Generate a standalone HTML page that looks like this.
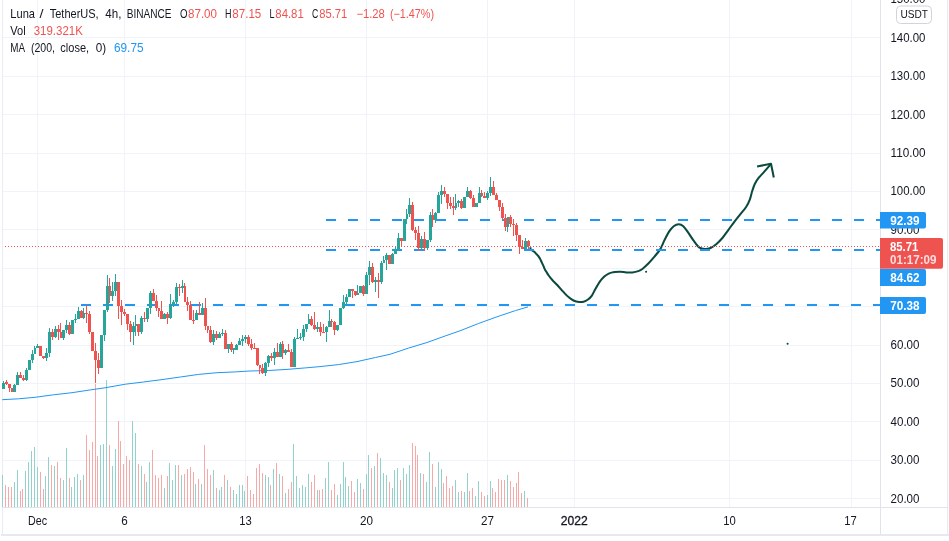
<!DOCTYPE html>
<html lang="en"><head><meta charset="utf-8"><title>LUNAUSDT chart</title>
<style>html,body{margin:0;padding:0;background:#fff;overflow:hidden}svg{display:block}</style></head>
<body>
<svg width="949" height="541" viewBox="0 0 949 541">
<rect width="949" height="541" fill="#fff"/>
<g fill="#f0f3fa" shape-rendering="crispEdges">
<rect x="37" y="0" width="1" height="507"/>
<rect x="124" y="0" width="1" height="507"/>
<rect x="245" y="0" width="1" height="507"/>
<rect x="366" y="0" width="1" height="507"/>
<rect x="487" y="0" width="1" height="507"/>
<rect x="574" y="0" width="1" height="507"/>
<rect x="729" y="0" width="1" height="507"/>
<rect x="851" y="0" width="1" height="507"/>
<rect x="3" y="37" width="877" height="1"/>
<rect x="3" y="76" width="877" height="1"/>
<rect x="3" y="114" width="877" height="1"/>
<rect x="3" y="153" width="877" height="1"/>
<rect x="3" y="191" width="877" height="1"/>
<rect x="3" y="229" width="877" height="1"/>
<rect x="3" y="268" width="877" height="1"/>
<rect x="3" y="306" width="877" height="1"/>
<rect x="3" y="345" width="877" height="1"/>
<rect x="3" y="383" width="877" height="1"/>
<rect x="3" y="421" width="877" height="1"/>
<rect x="3" y="460" width="877" height="1"/>
<rect x="3" y="498" width="877" height="1"/>
</g>
<rect x="2" y="0" width="1" height="535" fill="#eaecf3" shape-rendering="crispEdges"/>
<rect x="947" y="0" width="1" height="535" fill="#eaecf3" shape-rendering="crispEdges"/>
<g shape-rendering="crispEdges">
<rect x="2" y="475" width="1" height="32" fill="#92d2cc"/>
<rect x="5" y="485" width="1" height="22" fill="#f7a9a7"/>
<rect x="8" y="487" width="1" height="20" fill="#f7a9a7"/>
<rect x="11" y="487" width="1" height="20" fill="#f7a9a7"/>
<rect x="14" y="482" width="1" height="25" fill="#92d2cc"/>
<rect x="17" y="470" width="1" height="37" fill="#92d2cc"/>
<rect x="20" y="491" width="1" height="16" fill="#f7a9a7"/>
<rect x="22" y="489" width="1" height="18" fill="#f7a9a7"/>
<rect x="25" y="471" width="1" height="36" fill="#92d2cc"/>
<rect x="28" y="462" width="1" height="45" fill="#92d2cc"/>
<rect x="31" y="451" width="1" height="56" fill="#92d2cc"/>
<rect x="34" y="447" width="1" height="60" fill="#92d2cc"/>
<rect x="37" y="467" width="1" height="40" fill="#92d2cc"/>
<rect x="40" y="472" width="1" height="35" fill="#f7a9a7"/>
<rect x="43" y="489" width="1" height="18" fill="#f7a9a7"/>
<rect x="45" y="476" width="1" height="31" fill="#92d2cc"/>
<rect x="48" y="457" width="1" height="50" fill="#92d2cc"/>
<rect x="51" y="465" width="1" height="42" fill="#f7a9a7"/>
<rect x="54" y="466" width="1" height="41" fill="#92d2cc"/>
<rect x="57" y="462" width="1" height="45" fill="#f7a9a7"/>
<rect x="60" y="478" width="1" height="29" fill="#f7a9a7"/>
<rect x="63" y="480" width="1" height="27" fill="#92d2cc"/>
<rect x="66" y="448" width="1" height="59" fill="#92d2cc"/>
<rect x="69" y="478" width="1" height="29" fill="#f7a9a7"/>
<rect x="71" y="487" width="1" height="20" fill="#92d2cc"/>
<rect x="74" y="477" width="1" height="30" fill="#92d2cc"/>
<rect x="77" y="474" width="1" height="33" fill="#92d2cc"/>
<rect x="80" y="480" width="1" height="27" fill="#f7a9a7"/>
<rect x="83" y="475" width="1" height="32" fill="#92d2cc"/>
<rect x="86" y="435" width="1" height="72" fill="#f7a9a7"/>
<rect x="89" y="450" width="1" height="57" fill="#f7a9a7"/>
<rect x="92" y="442" width="1" height="65" fill="#f7a9a7"/>
<rect x="95" y="384" width="1" height="123" fill="#f7a9a7"/>
<rect x="97" y="456" width="1" height="51" fill="#f7a9a7"/>
<rect x="100" y="445" width="1" height="62" fill="#92d2cc"/>
<rect x="103" y="444" width="1" height="63" fill="#92d2cc"/>
<rect x="106" y="380" width="1" height="127" fill="#92d2cc"/>
<rect x="109" y="445" width="1" height="62" fill="#f7a9a7"/>
<rect x="112" y="466" width="1" height="41" fill="#92d2cc"/>
<rect x="115" y="449" width="1" height="58" fill="#92d2cc"/>
<rect x="118" y="421" width="1" height="86" fill="#f7a9a7"/>
<rect x="120" y="441" width="1" height="66" fill="#f7a9a7"/>
<rect x="123" y="464" width="1" height="43" fill="#f7a9a7"/>
<rect x="126" y="456" width="1" height="51" fill="#f7a9a7"/>
<rect x="129" y="460" width="1" height="47" fill="#f7a9a7"/>
<rect x="132" y="421" width="1" height="86" fill="#92d2cc"/>
<rect x="135" y="433" width="1" height="74" fill="#92d2cc"/>
<rect x="138" y="464" width="1" height="43" fill="#f7a9a7"/>
<rect x="141" y="466" width="1" height="41" fill="#92d2cc"/>
<rect x="144" y="474" width="1" height="33" fill="#f7a9a7"/>
<rect x="146" y="482" width="1" height="25" fill="#92d2cc"/>
<rect x="149" y="462" width="1" height="45" fill="#92d2cc"/>
<rect x="152" y="450" width="1" height="57" fill="#f7a9a7"/>
<rect x="155" y="475" width="1" height="32" fill="#f7a9a7"/>
<rect x="158" y="478" width="1" height="29" fill="#f7a9a7"/>
<rect x="161" y="475" width="1" height="32" fill="#f7a9a7"/>
<rect x="164" y="488" width="1" height="19" fill="#92d2cc"/>
<rect x="167" y="476" width="1" height="31" fill="#f7a9a7"/>
<rect x="169" y="463" width="1" height="44" fill="#92d2cc"/>
<rect x="172" y="480" width="1" height="27" fill="#92d2cc"/>
<rect x="175" y="465" width="1" height="42" fill="#92d2cc"/>
<rect x="178" y="465" width="1" height="42" fill="#f7a9a7"/>
<rect x="181" y="475" width="1" height="32" fill="#92d2cc"/>
<rect x="184" y="474" width="1" height="33" fill="#f7a9a7"/>
<rect x="187" y="469" width="1" height="38" fill="#f7a9a7"/>
<rect x="190" y="467" width="1" height="40" fill="#f7a9a7"/>
<rect x="193" y="472" width="1" height="35" fill="#f7a9a7"/>
<rect x="195" y="484" width="1" height="23" fill="#92d2cc"/>
<rect x="198" y="479" width="1" height="28" fill="#f7a9a7"/>
<rect x="201" y="484" width="1" height="23" fill="#92d2cc"/>
<rect x="204" y="445" width="1" height="62" fill="#f7a9a7"/>
<rect x="207" y="469" width="1" height="38" fill="#f7a9a7"/>
<rect x="210" y="475" width="1" height="32" fill="#f7a9a7"/>
<rect x="213" y="470" width="1" height="37" fill="#92d2cc"/>
<rect x="216" y="488" width="1" height="19" fill="#f7a9a7"/>
<rect x="219" y="490" width="1" height="17" fill="#92d2cc"/>
<rect x="221" y="487" width="1" height="20" fill="#92d2cc"/>
<rect x="224" y="475" width="1" height="32" fill="#f7a9a7"/>
<rect x="227" y="480" width="1" height="27" fill="#92d2cc"/>
<rect x="230" y="487" width="1" height="20" fill="#f7a9a7"/>
<rect x="233" y="490" width="1" height="17" fill="#92d2cc"/>
<rect x="236" y="494" width="1" height="13" fill="#92d2cc"/>
<rect x="239" y="485" width="1" height="22" fill="#92d2cc"/>
<rect x="242" y="485" width="1" height="22" fill="#92d2cc"/>
<rect x="244" y="491" width="1" height="16" fill="#92d2cc"/>
<rect x="247" y="476" width="1" height="31" fill="#f7a9a7"/>
<rect x="250" y="490" width="1" height="17" fill="#f7a9a7"/>
<rect x="253" y="494" width="1" height="13" fill="#f7a9a7"/>
<rect x="256" y="468" width="1" height="39" fill="#f7a9a7"/>
<rect x="259" y="464" width="1" height="43" fill="#f7a9a7"/>
<rect x="262" y="473" width="1" height="34" fill="#f7a9a7"/>
<rect x="265" y="475" width="1" height="32" fill="#92d2cc"/>
<rect x="268" y="477" width="1" height="30" fill="#92d2cc"/>
<rect x="270" y="485" width="1" height="22" fill="#f7a9a7"/>
<rect x="273" y="469" width="1" height="38" fill="#92d2cc"/>
<rect x="276" y="463" width="1" height="44" fill="#f7a9a7"/>
<rect x="279" y="474" width="1" height="33" fill="#92d2cc"/>
<rect x="282" y="476" width="1" height="31" fill="#f7a9a7"/>
<rect x="285" y="493" width="1" height="14" fill="#92d2cc"/>
<rect x="288" y="489" width="1" height="18" fill="#f7a9a7"/>
<rect x="291" y="482" width="1" height="25" fill="#f7a9a7"/>
<rect x="293" y="444" width="1" height="63" fill="#92d2cc"/>
<rect x="296" y="476" width="1" height="31" fill="#92d2cc"/>
<rect x="299" y="488" width="1" height="19" fill="#92d2cc"/>
<rect x="302" y="485" width="1" height="22" fill="#92d2cc"/>
<rect x="305" y="487" width="1" height="20" fill="#92d2cc"/>
<rect x="308" y="474" width="1" height="33" fill="#92d2cc"/>
<rect x="311" y="482" width="1" height="25" fill="#f7a9a7"/>
<rect x="314" y="475" width="1" height="32" fill="#f7a9a7"/>
<rect x="317" y="490" width="1" height="17" fill="#92d2cc"/>
<rect x="319" y="490" width="1" height="17" fill="#f7a9a7"/>
<rect x="322" y="489" width="1" height="18" fill="#f7a9a7"/>
<rect x="325" y="478" width="1" height="29" fill="#92d2cc"/>
<rect x="328" y="462" width="1" height="45" fill="#92d2cc"/>
<rect x="331" y="490" width="1" height="17" fill="#f7a9a7"/>
<rect x="334" y="484" width="1" height="23" fill="#f7a9a7"/>
<rect x="337" y="495" width="1" height="12" fill="#92d2cc"/>
<rect x="340" y="484" width="1" height="23" fill="#92d2cc"/>
<rect x="343" y="462" width="1" height="45" fill="#92d2cc"/>
<rect x="345" y="477" width="1" height="30" fill="#92d2cc"/>
<rect x="348" y="486" width="1" height="21" fill="#92d2cc"/>
<rect x="351" y="481" width="1" height="26" fill="#f7a9a7"/>
<rect x="354" y="492" width="1" height="15" fill="#f7a9a7"/>
<rect x="357" y="479" width="1" height="28" fill="#92d2cc"/>
<rect x="360" y="483" width="1" height="24" fill="#92d2cc"/>
<rect x="363" y="489" width="1" height="18" fill="#f7a9a7"/>
<rect x="366" y="474" width="1" height="33" fill="#92d2cc"/>
<rect x="368" y="455" width="1" height="52" fill="#92d2cc"/>
<rect x="371" y="468" width="1" height="39" fill="#f7a9a7"/>
<rect x="374" y="466" width="1" height="41" fill="#92d2cc"/>
<rect x="377" y="453" width="1" height="54" fill="#f7a9a7"/>
<rect x="380" y="458" width="1" height="49" fill="#92d2cc"/>
<rect x="383" y="473" width="1" height="34" fill="#92d2cc"/>
<rect x="386" y="475" width="1" height="32" fill="#92d2cc"/>
<rect x="389" y="482" width="1" height="25" fill="#f7a9a7"/>
<rect x="392" y="488" width="1" height="19" fill="#92d2cc"/>
<rect x="394" y="470" width="1" height="37" fill="#92d2cc"/>
<rect x="397" y="468" width="1" height="39" fill="#92d2cc"/>
<rect x="400" y="480" width="1" height="27" fill="#f7a9a7"/>
<rect x="403" y="468" width="1" height="39" fill="#92d2cc"/>
<rect x="406" y="474" width="1" height="33" fill="#92d2cc"/>
<rect x="409" y="465" width="1" height="42" fill="#92d2cc"/>
<rect x="412" y="443" width="1" height="64" fill="#f7a9a7"/>
<rect x="415" y="446" width="1" height="61" fill="#f7a9a7"/>
<rect x="417" y="455" width="1" height="52" fill="#f7a9a7"/>
<rect x="420" y="473" width="1" height="34" fill="#92d2cc"/>
<rect x="423" y="474" width="1" height="33" fill="#f7a9a7"/>
<rect x="426" y="482" width="1" height="25" fill="#92d2cc"/>
<rect x="429" y="452" width="1" height="55" fill="#92d2cc"/>
<rect x="432" y="464" width="1" height="43" fill="#f7a9a7"/>
<rect x="435" y="487" width="1" height="20" fill="#92d2cc"/>
<rect x="438" y="462" width="1" height="45" fill="#92d2cc"/>
<rect x="441" y="469" width="1" height="38" fill="#92d2cc"/>
<rect x="443" y="483" width="1" height="24" fill="#f7a9a7"/>
<rect x="446" y="476" width="1" height="31" fill="#f7a9a7"/>
<rect x="449" y="488" width="1" height="19" fill="#f7a9a7"/>
<rect x="452" y="486" width="1" height="21" fill="#f7a9a7"/>
<rect x="455" y="480" width="1" height="27" fill="#92d2cc"/>
<rect x="458" y="492" width="1" height="15" fill="#92d2cc"/>
<rect x="461" y="491" width="1" height="16" fill="#f7a9a7"/>
<rect x="464" y="492" width="1" height="15" fill="#92d2cc"/>
<rect x="467" y="473" width="1" height="34" fill="#92d2cc"/>
<rect x="469" y="491" width="1" height="16" fill="#f7a9a7"/>
<rect x="472" y="488" width="1" height="19" fill="#f7a9a7"/>
<rect x="475" y="496" width="1" height="11" fill="#92d2cc"/>
<rect x="478" y="481" width="1" height="26" fill="#92d2cc"/>
<rect x="481" y="492" width="1" height="15" fill="#f7a9a7"/>
<rect x="484" y="496" width="1" height="11" fill="#f7a9a7"/>
<rect x="487" y="495" width="1" height="12" fill="#92d2cc"/>
<rect x="490" y="481" width="1" height="26" fill="#92d2cc"/>
<rect x="492" y="488" width="1" height="19" fill="#f7a9a7"/>
<rect x="495" y="492" width="1" height="15" fill="#f7a9a7"/>
<rect x="498" y="479" width="1" height="28" fill="#f7a9a7"/>
<rect x="501" y="480" width="1" height="27" fill="#f7a9a7"/>
<rect x="504" y="480" width="1" height="27" fill="#f7a9a7"/>
<rect x="507" y="475" width="1" height="32" fill="#92d2cc"/>
<rect x="510" y="481" width="1" height="26" fill="#f7a9a7"/>
<rect x="513" y="487" width="1" height="20" fill="#f7a9a7"/>
<rect x="516" y="483" width="1" height="24" fill="#f7a9a7"/>
<rect x="518" y="472" width="1" height="35" fill="#f7a9a7"/>
<rect x="521" y="493" width="1" height="14" fill="#f7a9a7"/>
<rect x="524" y="491" width="1" height="16" fill="#92d2cc"/>
<rect x="527" y="498" width="1" height="9" fill="#f7a9a7"/>
</g>
<polyline points="2.2,399.7 18.5,398.8 35.0,397.3 53.5,394.8 72.0,392.7 90.4,389.9 105.0,387.8 125.4,384.2 143.5,382.0 162.0,379.6 180.4,377.0 198.5,374.4 217.0,372.7 235.4,371.9 250.0,371.0 268.5,370.5 287.0,369.4 305.4,367.9 320.0,366.6 338.5,364.6 357.0,361.6 375.4,357.5 390.0,354.3 408.5,348.1 427.0,342.5 445.4,335.9 460.0,330.8 478.5,323.5 497.0,316.8 515.4,310.6 528.0,306.9" fill="none" stroke="#2196f3" stroke-width="1" stroke-linejoin="round"/>
<g fill="none" stroke="#0b4a3f" stroke-width="2.05" stroke-linecap="butt" stroke-linejoin="round">
<path d="M530.5,247.2C530.5,247.6 530.2,248.9 530.8,249.6C531.4,250.3 533.0,250.8 533.9,251.5C534.8,252.2 535.3,252.8 536.1,253.7C536.9,254.5 538.0,255.6 538.7,256.6C539.4,257.6 540.0,258.6 540.5,259.6C541.0,260.7 541.5,261.8 542.0,262.9C542.5,264.0 543.0,265.1 543.5,266.2C544.0,267.3 544.5,268.6 545.0,269.6C545.5,270.7 546.2,271.5 546.8,272.5C547.4,273.5 547.8,274.2 548.7,275.5C549.6,276.8 550.9,278.5 552.3,280.0C553.7,281.5 555.2,282.8 557.0,284.7C558.8,286.6 560.9,289.3 562.9,291.4C564.9,293.5 566.9,295.8 568.8,297.3C570.6,298.9 572.3,299.9 574.0,300.7C575.7,301.5 577.5,301.8 579.1,302.0C580.7,302.2 582.1,302.1 583.6,301.7C585.1,301.3 586.6,300.5 588.0,299.5C589.4,298.5 590.5,297.5 591.7,295.8C592.9,294.1 594.0,291.5 595.4,289.1C596.8,286.8 598.3,283.8 599.8,281.7C601.3,279.6 602.8,278.0 604.3,276.6C605.8,275.2 607.0,274.4 608.7,273.6C610.4,272.9 612.6,272.4 614.6,272.1C616.6,271.8 618.5,271.6 620.5,271.7C622.5,271.8 624.4,272.3 626.4,272.4C628.4,272.5 630.4,272.6 632.4,272.4C634.4,272.2 636.6,271.7 638.3,271.1C640.0,270.5 641.0,270.0 642.7,268.7C644.4,267.4 646.6,265.3 648.6,263.3C650.6,261.3 652.5,259.0 654.5,256.6C656.5,254.2 658.6,251.9 660.3,249.1C662.0,246.2 663.3,242.4 664.8,239.5C666.3,236.6 667.7,233.6 669.2,231.4C670.7,229.2 672.1,227.4 673.7,226.2C675.3,225.0 677.2,224.3 678.8,224.3C680.4,224.3 681.7,224.8 683.3,226.2C684.9,227.6 686.5,230.3 688.4,232.9C690.2,235.5 692.5,239.2 694.4,241.7C696.2,244.2 697.8,246.5 699.5,247.7C701.2,248.9 702.9,249.0 704.7,249.1C706.6,249.2 708.6,248.8 710.6,248.0C712.6,247.2 714.5,245.7 716.5,244.0C718.5,242.3 720.4,240.3 722.4,238.0C724.4,235.7 726.4,232.6 728.4,229.9C730.4,227.2 732.3,224.4 734.3,221.8C736.3,219.2 738.2,216.9 740.2,214.4C742.2,211.9 744.5,209.5 746.1,207.0C747.7,204.5 748.8,202.3 749.8,199.6C750.8,196.9 751.4,193.6 752.2,191.0C753.1,188.4 753.8,186.0 754.9,183.8C756.0,181.6 757.2,179.7 758.8,177.7C760.4,175.7 762.3,173.9 764.3,171.6C766.3,169.3 769.9,165.1 771.0,163.8"/>
<polyline points="757.1,166.4 771,163.8 773.8,177.5"/>
</g>
<circle cx="646.1" cy="271.7" r="1.05" fill="#0b4a3f"/>
<circle cx="787.6" cy="343.7" r="1.05" fill="#0b4a3f"/>
<g stroke="#2196f3" stroke-width="2" shape-rendering="crispEdges">
<line x1="81" y1="305" x2="880" y2="305" stroke-dasharray="10 12"/>
<line x1="326" y1="250" x2="880" y2="250" stroke-dasharray="10 12"/>
<line x1="326" y1="220" x2="880" y2="220" stroke-dasharray="10 12"/>
</g>
<line x1="5" y1="246.5" x2="880" y2="246.5" stroke="#ef5350" stroke-width="1" stroke-dasharray="1 2" shape-rendering="crispEdges"/>
<g shape-rendering="crispEdges">
<rect x="3" y="381" width="1" height="8" fill="#26a69a"/>
<rect x="2" y="383" width="3" height="6" fill="#26a69a"/>
<rect x="6" y="380" width="1" height="5" fill="#ef5350"/>
<rect x="5" y="382" width="3" height="2" fill="#ef5350"/>
<rect x="9" y="384" width="1" height="8" fill="#ef5350"/>
<rect x="8" y="384" width="3" height="4" fill="#ef5350"/>
<rect x="11" y="388" width="1" height="4" fill="#ef5350"/>
<rect x="11" y="388" width="2" height="4" fill="#ef5350"/>
<rect x="14" y="384" width="1" height="8" fill="#26a69a"/>
<rect x="13" y="385" width="3" height="7" fill="#26a69a"/>
<rect x="17" y="372" width="1" height="13" fill="#26a69a"/>
<rect x="16" y="375" width="3" height="10" fill="#26a69a"/>
<rect x="20" y="372" width="1" height="6" fill="#ef5350"/>
<rect x="19" y="375" width="3" height="3" fill="#ef5350"/>
<rect x="23" y="375" width="1" height="6" fill="#ef5350"/>
<rect x="22" y="378" width="3" height="2" fill="#ef5350"/>
<rect x="26" y="368" width="1" height="13" fill="#26a69a"/>
<rect x="25" y="370" width="3" height="10" fill="#26a69a"/>
<rect x="29" y="360" width="1" height="10" fill="#26a69a"/>
<rect x="28" y="360" width="3" height="10" fill="#26a69a"/>
<rect x="32" y="350" width="1" height="13" fill="#26a69a"/>
<rect x="31" y="354" width="3" height="6" fill="#26a69a"/>
<rect x="34" y="346" width="1" height="8" fill="#26a69a"/>
<rect x="34" y="348" width="2" height="6" fill="#26a69a"/>
<rect x="37" y="344" width="1" height="4" fill="#26a69a"/>
<rect x="36" y="346" width="3" height="2" fill="#26a69a"/>
<rect x="40" y="346" width="1" height="10" fill="#ef5350"/>
<rect x="39" y="346" width="3" height="10" fill="#ef5350"/>
<rect x="43" y="356" width="1" height="3" fill="#ef5350"/>
<rect x="42" y="356" width="3" height="2" fill="#ef5350"/>
<rect x="46" y="348" width="1" height="13" fill="#26a69a"/>
<rect x="45" y="353" width="3" height="5" fill="#26a69a"/>
<rect x="49" y="328" width="1" height="29" fill="#26a69a"/>
<rect x="48" y="332" width="3" height="21" fill="#26a69a"/>
<rect x="52" y="329" width="1" height="11" fill="#ef5350"/>
<rect x="51" y="332" width="3" height="5" fill="#ef5350"/>
<rect x="55" y="326" width="1" height="12" fill="#26a69a"/>
<rect x="54" y="329" width="3" height="8" fill="#26a69a"/>
<rect x="58" y="325" width="1" height="15" fill="#ef5350"/>
<rect x="57" y="329" width="3" height="3" fill="#ef5350"/>
<rect x="60" y="323" width="1" height="15" fill="#ef5350"/>
<rect x="60" y="332" width="2" height="6" fill="#ef5350"/>
<rect x="63" y="330" width="1" height="10" fill="#26a69a"/>
<rect x="62" y="330" width="3" height="8" fill="#26a69a"/>
<rect x="66" y="320" width="1" height="13" fill="#26a69a"/>
<rect x="65" y="325" width="3" height="5" fill="#26a69a"/>
<rect x="69" y="322" width="1" height="13" fill="#ef5350"/>
<rect x="68" y="325" width="3" height="9" fill="#ef5350"/>
<rect x="72" y="320" width="1" height="14" fill="#26a69a"/>
<rect x="71" y="320" width="3" height="14" fill="#26a69a"/>
<rect x="75" y="314" width="1" height="9" fill="#26a69a"/>
<rect x="74" y="319" width="3" height="1" fill="#26a69a"/>
<rect x="78" y="307" width="1" height="12" fill="#26a69a"/>
<rect x="77" y="311" width="3" height="8" fill="#26a69a"/>
<rect x="81" y="310" width="1" height="8" fill="#ef5350"/>
<rect x="80" y="311" width="3" height="7" fill="#ef5350"/>
<rect x="83" y="308" width="1" height="11" fill="#26a69a"/>
<rect x="83" y="313" width="2" height="5" fill="#26a69a"/>
<rect x="86" y="305" width="1" height="18" fill="#ef5350"/>
<rect x="85" y="313" width="3" height="1" fill="#ef5350"/>
<rect x="89" y="311" width="1" height="23" fill="#ef5350"/>
<rect x="88" y="314" width="3" height="18" fill="#ef5350"/>
<rect x="92" y="332" width="1" height="19" fill="#ef5350"/>
<rect x="91" y="332" width="3" height="19" fill="#ef5350"/>
<rect x="95" y="343" width="1" height="40" fill="#ef5350"/>
<rect x="94" y="351" width="3" height="9" fill="#ef5350"/>
<rect x="98" y="353" width="1" height="21" fill="#ef5350"/>
<rect x="97" y="360" width="3" height="8" fill="#ef5350"/>
<rect x="101" y="335" width="1" height="33" fill="#26a69a"/>
<rect x="100" y="335" width="3" height="33" fill="#26a69a"/>
<rect x="104" y="310" width="1" height="31" fill="#26a69a"/>
<rect x="103" y="310" width="3" height="25" fill="#26a69a"/>
<rect x="107" y="275" width="1" height="37" fill="#26a69a"/>
<rect x="106" y="286" width="3" height="24" fill="#26a69a"/>
<rect x="109" y="278" width="1" height="25" fill="#ef5350"/>
<rect x="109" y="286" width="2" height="10" fill="#ef5350"/>
<rect x="112" y="282" width="1" height="19" fill="#26a69a"/>
<rect x="111" y="291" width="3" height="5" fill="#26a69a"/>
<rect x="115" y="274" width="1" height="22" fill="#26a69a"/>
<rect x="114" y="282" width="3" height="9" fill="#26a69a"/>
<rect x="118" y="282" width="1" height="37" fill="#ef5350"/>
<rect x="117" y="282" width="3" height="24" fill="#ef5350"/>
<rect x="121" y="300" width="1" height="25" fill="#ef5350"/>
<rect x="120" y="306" width="3" height="6" fill="#ef5350"/>
<rect x="124" y="309" width="1" height="7" fill="#ef5350"/>
<rect x="123" y="312" width="3" height="2" fill="#ef5350"/>
<rect x="127" y="314" width="1" height="16" fill="#ef5350"/>
<rect x="126" y="314" width="3" height="10" fill="#ef5350"/>
<rect x="130" y="321" width="1" height="21" fill="#ef5350"/>
<rect x="129" y="324" width="3" height="8" fill="#ef5350"/>
<rect x="133" y="322" width="1" height="23" fill="#26a69a"/>
<rect x="132" y="326" width="3" height="6" fill="#26a69a"/>
<rect x="135" y="315" width="1" height="21" fill="#26a69a"/>
<rect x="135" y="324" width="2" height="2" fill="#26a69a"/>
<rect x="138" y="324" width="1" height="12" fill="#ef5350"/>
<rect x="137" y="324" width="3" height="8" fill="#ef5350"/>
<rect x="141" y="316" width="1" height="18" fill="#26a69a"/>
<rect x="140" y="318" width="3" height="14" fill="#26a69a"/>
<rect x="144" y="312" width="1" height="10" fill="#ef5350"/>
<rect x="143" y="318" width="3" height="1" fill="#ef5350"/>
<rect x="147" y="308" width="1" height="14" fill="#26a69a"/>
<rect x="146" y="308" width="3" height="11" fill="#26a69a"/>
<rect x="150" y="291" width="1" height="23" fill="#26a69a"/>
<rect x="149" y="293" width="3" height="15" fill="#26a69a"/>
<rect x="153" y="289" width="1" height="12" fill="#ef5350"/>
<rect x="152" y="293" width="3" height="8" fill="#ef5350"/>
<rect x="156" y="295" width="1" height="16" fill="#ef5350"/>
<rect x="155" y="301" width="3" height="7" fill="#ef5350"/>
<rect x="158" y="308" width="1" height="9" fill="#ef5350"/>
<rect x="158" y="308" width="2" height="3" fill="#ef5350"/>
<rect x="161" y="301" width="1" height="18" fill="#ef5350"/>
<rect x="160" y="311" width="3" height="8" fill="#ef5350"/>
<rect x="164" y="313" width="1" height="6" fill="#26a69a"/>
<rect x="163" y="314" width="3" height="5" fill="#26a69a"/>
<rect x="167" y="312" width="1" height="12" fill="#ef5350"/>
<rect x="166" y="314" width="3" height="4" fill="#ef5350"/>
<rect x="170" y="294" width="1" height="25" fill="#26a69a"/>
<rect x="169" y="305" width="3" height="13" fill="#26a69a"/>
<rect x="173" y="300" width="1" height="7" fill="#26a69a"/>
<rect x="172" y="302" width="3" height="3" fill="#26a69a"/>
<rect x="176" y="283" width="1" height="21" fill="#26a69a"/>
<rect x="175" y="287" width="3" height="15" fill="#26a69a"/>
<rect x="179" y="284" width="1" height="12" fill="#ef5350"/>
<rect x="178" y="287" width="3" height="1" fill="#ef5350"/>
<rect x="182" y="280" width="1" height="13" fill="#26a69a"/>
<rect x="181" y="286" width="3" height="2" fill="#26a69a"/>
<rect x="184" y="283" width="1" height="19" fill="#ef5350"/>
<rect x="184" y="286" width="2" height="16" fill="#ef5350"/>
<rect x="187" y="297" width="1" height="14" fill="#ef5350"/>
<rect x="186" y="302" width="3" height="3" fill="#ef5350"/>
<rect x="190" y="301" width="1" height="19" fill="#ef5350"/>
<rect x="189" y="305" width="3" height="15" fill="#ef5350"/>
<rect x="193" y="310" width="1" height="14" fill="#ef5350"/>
<rect x="192" y="320" width="3" height="1" fill="#ef5350"/>
<rect x="196" y="310" width="1" height="10" fill="#26a69a"/>
<rect x="195" y="313" width="3" height="7" fill="#26a69a"/>
<rect x="199" y="302" width="1" height="13" fill="#ef5350"/>
<rect x="198" y="313" width="3" height="2" fill="#ef5350"/>
<rect x="202" y="303" width="1" height="12" fill="#26a69a"/>
<rect x="201" y="308" width="3" height="7" fill="#26a69a"/>
<rect x="205" y="298" width="1" height="32" fill="#ef5350"/>
<rect x="204" y="308" width="3" height="18" fill="#ef5350"/>
<rect x="207" y="326" width="1" height="7" fill="#ef5350"/>
<rect x="207" y="326" width="2" height="4" fill="#ef5350"/>
<rect x="210" y="326" width="1" height="17" fill="#ef5350"/>
<rect x="209" y="330" width="3" height="12" fill="#ef5350"/>
<rect x="213" y="330" width="1" height="15" fill="#26a69a"/>
<rect x="212" y="334" width="3" height="8" fill="#26a69a"/>
<rect x="216" y="331" width="1" height="9" fill="#ef5350"/>
<rect x="215" y="334" width="3" height="4" fill="#ef5350"/>
<rect x="219" y="332" width="1" height="6" fill="#26a69a"/>
<rect x="218" y="334" width="3" height="4" fill="#26a69a"/>
<rect x="222" y="329" width="1" height="7" fill="#26a69a"/>
<rect x="221" y="333" width="3" height="1" fill="#26a69a"/>
<rect x="225" y="330" width="1" height="19" fill="#ef5350"/>
<rect x="224" y="333" width="3" height="16" fill="#ef5350"/>
<rect x="228" y="344" width="1" height="9" fill="#26a69a"/>
<rect x="227" y="344" width="3" height="5" fill="#26a69a"/>
<rect x="231" y="342" width="1" height="10" fill="#ef5350"/>
<rect x="230" y="344" width="3" height="6" fill="#ef5350"/>
<rect x="233" y="348" width="1" height="6" fill="#26a69a"/>
<rect x="233" y="348" width="2" height="2" fill="#26a69a"/>
<rect x="236" y="344" width="1" height="6" fill="#26a69a"/>
<rect x="235" y="345" width="3" height="5" fill="#26a69a"/>
<rect x="239" y="338" width="1" height="7" fill="#26a69a"/>
<rect x="238" y="341" width="3" height="4" fill="#26a69a"/>
<rect x="242" y="335" width="1" height="11" fill="#26a69a"/>
<rect x="241" y="339" width="3" height="2" fill="#26a69a"/>
<rect x="245" y="335" width="1" height="8" fill="#26a69a"/>
<rect x="244" y="337" width="3" height="2" fill="#26a69a"/>
<rect x="248" y="335" width="1" height="11" fill="#ef5350"/>
<rect x="247" y="337" width="3" height="7" fill="#ef5350"/>
<rect x="251" y="339" width="1" height="11" fill="#ef5350"/>
<rect x="250" y="344" width="3" height="4" fill="#ef5350"/>
<rect x="254" y="343" width="1" height="5" fill="#ef5350"/>
<rect x="253" y="348" width="3" height="1" fill="#ef5350"/>
<rect x="257" y="348" width="1" height="18" fill="#ef5350"/>
<rect x="256" y="348" width="3" height="17" fill="#ef5350"/>
<rect x="259" y="365" width="1" height="9" fill="#ef5350"/>
<rect x="259" y="365" width="2" height="3" fill="#ef5350"/>
<rect x="262" y="364" width="1" height="10" fill="#ef5350"/>
<rect x="261" y="368" width="3" height="5" fill="#ef5350"/>
<rect x="265" y="362" width="1" height="14" fill="#26a69a"/>
<rect x="264" y="363" width="3" height="10" fill="#26a69a"/>
<rect x="268" y="355" width="1" height="12" fill="#26a69a"/>
<rect x="267" y="356" width="3" height="7" fill="#26a69a"/>
<rect x="271" y="353" width="1" height="8" fill="#ef5350"/>
<rect x="270" y="356" width="3" height="2" fill="#ef5350"/>
<rect x="274" y="348" width="1" height="17" fill="#26a69a"/>
<rect x="273" y="352" width="3" height="6" fill="#26a69a"/>
<rect x="277" y="343" width="1" height="14" fill="#ef5350"/>
<rect x="276" y="352" width="3" height="5" fill="#ef5350"/>
<rect x="280" y="342" width="1" height="15" fill="#26a69a"/>
<rect x="279" y="344" width="3" height="13" fill="#26a69a"/>
<rect x="282" y="341" width="1" height="18" fill="#ef5350"/>
<rect x="282" y="344" width="2" height="9" fill="#ef5350"/>
<rect x="285" y="349" width="1" height="6" fill="#26a69a"/>
<rect x="284" y="350" width="3" height="3" fill="#26a69a"/>
<rect x="288" y="344" width="1" height="8" fill="#ef5350"/>
<rect x="287" y="350" width="3" height="2" fill="#ef5350"/>
<rect x="291" y="349" width="1" height="18" fill="#ef5350"/>
<rect x="290" y="352" width="3" height="15" fill="#ef5350"/>
<rect x="294" y="337" width="1" height="30" fill="#26a69a"/>
<rect x="293" y="339" width="3" height="28" fill="#26a69a"/>
<rect x="297" y="329" width="1" height="10" fill="#26a69a"/>
<rect x="296" y="338" width="3" height="1" fill="#26a69a"/>
<rect x="300" y="333" width="1" height="7" fill="#26a69a"/>
<rect x="299" y="337" width="3" height="1" fill="#26a69a"/>
<rect x="303" y="325" width="1" height="16" fill="#26a69a"/>
<rect x="302" y="329" width="3" height="8" fill="#26a69a"/>
<rect x="306" y="324" width="1" height="8" fill="#26a69a"/>
<rect x="305" y="324" width="3" height="5" fill="#26a69a"/>
<rect x="308" y="314" width="1" height="10" fill="#26a69a"/>
<rect x="308" y="319" width="2" height="5" fill="#26a69a"/>
<rect x="311" y="316" width="1" height="10" fill="#ef5350"/>
<rect x="310" y="319" width="3" height="6" fill="#ef5350"/>
<rect x="314" y="312" width="1" height="18" fill="#ef5350"/>
<rect x="313" y="325" width="3" height="4" fill="#ef5350"/>
<rect x="317" y="322" width="1" height="10" fill="#26a69a"/>
<rect x="316" y="327" width="3" height="2" fill="#26a69a"/>
<rect x="320" y="322" width="1" height="14" fill="#ef5350"/>
<rect x="319" y="327" width="3" height="5" fill="#ef5350"/>
<rect x="323" y="324" width="1" height="8" fill="#ef5350"/>
<rect x="322" y="332" width="3" height="1" fill="#ef5350"/>
<rect x="326" y="326" width="1" height="16" fill="#26a69a"/>
<rect x="325" y="327" width="3" height="5" fill="#26a69a"/>
<rect x="329" y="310" width="1" height="17" fill="#26a69a"/>
<rect x="328" y="321" width="3" height="6" fill="#26a69a"/>
<rect x="331" y="319" width="1" height="8" fill="#ef5350"/>
<rect x="331" y="321" width="2" height="1" fill="#ef5350"/>
<rect x="334" y="321" width="1" height="14" fill="#ef5350"/>
<rect x="333" y="322" width="3" height="8" fill="#ef5350"/>
<rect x="337" y="325" width="1" height="6" fill="#26a69a"/>
<rect x="336" y="325" width="3" height="5" fill="#26a69a"/>
<rect x="340" y="308" width="1" height="17" fill="#26a69a"/>
<rect x="339" y="308" width="3" height="17" fill="#26a69a"/>
<rect x="343" y="295" width="1" height="14" fill="#26a69a"/>
<rect x="342" y="302" width="3" height="6" fill="#26a69a"/>
<rect x="346" y="294" width="1" height="12" fill="#26a69a"/>
<rect x="345" y="297" width="3" height="5" fill="#26a69a"/>
<rect x="349" y="289" width="1" height="8" fill="#26a69a"/>
<rect x="348" y="289" width="3" height="8" fill="#26a69a"/>
<rect x="352" y="289" width="1" height="9" fill="#ef5350"/>
<rect x="351" y="289" width="3" height="2" fill="#ef5350"/>
<rect x="355" y="291" width="1" height="5" fill="#ef5350"/>
<rect x="354" y="291" width="3" height="4" fill="#ef5350"/>
<rect x="357" y="285" width="1" height="10" fill="#26a69a"/>
<rect x="357" y="293" width="2" height="2" fill="#26a69a"/>
<rect x="360" y="286" width="1" height="7" fill="#26a69a"/>
<rect x="359" y="286" width="3" height="7" fill="#26a69a"/>
<rect x="363" y="285" width="1" height="11" fill="#ef5350"/>
<rect x="362" y="286" width="3" height="8" fill="#ef5350"/>
<rect x="366" y="272" width="1" height="22" fill="#26a69a"/>
<rect x="365" y="275" width="3" height="19" fill="#26a69a"/>
<rect x="369" y="261" width="1" height="24" fill="#26a69a"/>
<rect x="368" y="267" width="3" height="8" fill="#26a69a"/>
<rect x="372" y="263" width="1" height="20" fill="#ef5350"/>
<rect x="371" y="267" width="3" height="15" fill="#ef5350"/>
<rect x="375" y="277" width="1" height="15" fill="#26a69a"/>
<rect x="374" y="280" width="3" height="2" fill="#26a69a"/>
<rect x="378" y="273" width="1" height="25" fill="#ef5350"/>
<rect x="377" y="280" width="3" height="2" fill="#ef5350"/>
<rect x="381" y="261" width="1" height="23" fill="#26a69a"/>
<rect x="380" y="263" width="3" height="19" fill="#26a69a"/>
<rect x="383" y="256" width="1" height="7" fill="#26a69a"/>
<rect x="383" y="260" width="2" height="3" fill="#26a69a"/>
<rect x="386" y="253" width="1" height="17" fill="#26a69a"/>
<rect x="385" y="255" width="3" height="5" fill="#26a69a"/>
<rect x="389" y="255" width="1" height="9" fill="#ef5350"/>
<rect x="388" y="255" width="3" height="9" fill="#ef5350"/>
<rect x="392" y="253" width="1" height="11" fill="#26a69a"/>
<rect x="391" y="254" width="3" height="10" fill="#26a69a"/>
<rect x="395" y="247" width="1" height="7" fill="#26a69a"/>
<rect x="394" y="250" width="3" height="4" fill="#26a69a"/>
<rect x="398" y="233" width="1" height="17" fill="#26a69a"/>
<rect x="397" y="238" width="3" height="12" fill="#26a69a"/>
<rect x="401" y="238" width="1" height="8" fill="#ef5350"/>
<rect x="400" y="238" width="3" height="3" fill="#ef5350"/>
<rect x="404" y="219" width="1" height="22" fill="#26a69a"/>
<rect x="403" y="219" width="3" height="22" fill="#26a69a"/>
<rect x="406" y="209" width="1" height="15" fill="#26a69a"/>
<rect x="406" y="214" width="2" height="5" fill="#26a69a"/>
<rect x="409" y="198" width="1" height="19" fill="#26a69a"/>
<rect x="408" y="205" width="3" height="9" fill="#26a69a"/>
<rect x="412" y="202" width="1" height="29" fill="#ef5350"/>
<rect x="411" y="205" width="3" height="25" fill="#ef5350"/>
<rect x="415" y="227" width="1" height="13" fill="#ef5350"/>
<rect x="414" y="230" width="3" height="3" fill="#ef5350"/>
<rect x="418" y="226" width="1" height="25" fill="#ef5350"/>
<rect x="417" y="233" width="3" height="15" fill="#ef5350"/>
<rect x="421" y="236" width="1" height="14" fill="#26a69a"/>
<rect x="420" y="239" width="3" height="9" fill="#26a69a"/>
<rect x="424" y="232" width="1" height="19" fill="#ef5350"/>
<rect x="423" y="239" width="3" height="9" fill="#ef5350"/>
<rect x="427" y="240" width="1" height="10" fill="#26a69a"/>
<rect x="426" y="240" width="3" height="8" fill="#26a69a"/>
<rect x="430" y="212" width="1" height="30" fill="#26a69a"/>
<rect x="429" y="215" width="3" height="25" fill="#26a69a"/>
<rect x="432" y="209" width="1" height="18" fill="#ef5350"/>
<rect x="432" y="215" width="2" height="5" fill="#ef5350"/>
<rect x="435" y="212" width="1" height="11" fill="#26a69a"/>
<rect x="434" y="213" width="3" height="7" fill="#26a69a"/>
<rect x="438" y="192" width="1" height="21" fill="#26a69a"/>
<rect x="437" y="195" width="3" height="18" fill="#26a69a"/>
<rect x="441" y="185" width="1" height="19" fill="#26a69a"/>
<rect x="440" y="191" width="3" height="4" fill="#26a69a"/>
<rect x="444" y="187" width="1" height="10" fill="#ef5350"/>
<rect x="443" y="191" width="3" height="3" fill="#ef5350"/>
<rect x="447" y="194" width="1" height="15" fill="#ef5350"/>
<rect x="446" y="194" width="3" height="9" fill="#ef5350"/>
<rect x="450" y="197" width="1" height="12" fill="#ef5350"/>
<rect x="449" y="203" width="3" height="3" fill="#ef5350"/>
<rect x="453" y="197" width="1" height="18" fill="#ef5350"/>
<rect x="452" y="206" width="3" height="2" fill="#ef5350"/>
<rect x="455" y="194" width="1" height="16" fill="#26a69a"/>
<rect x="455" y="203" width="2" height="5" fill="#26a69a"/>
<rect x="458" y="200" width="1" height="7" fill="#26a69a"/>
<rect x="457" y="201" width="3" height="2" fill="#26a69a"/>
<rect x="461" y="199" width="1" height="10" fill="#ef5350"/>
<rect x="460" y="201" width="3" height="7" fill="#ef5350"/>
<rect x="464" y="197" width="1" height="11" fill="#26a69a"/>
<rect x="463" y="197" width="3" height="11" fill="#26a69a"/>
<rect x="467" y="187" width="1" height="10" fill="#26a69a"/>
<rect x="466" y="191" width="3" height="6" fill="#26a69a"/>
<rect x="470" y="190" width="1" height="9" fill="#ef5350"/>
<rect x="469" y="191" width="3" height="7" fill="#ef5350"/>
<rect x="473" y="195" width="1" height="12" fill="#ef5350"/>
<rect x="472" y="198" width="3" height="9" fill="#ef5350"/>
<rect x="476" y="203" width="1" height="4" fill="#26a69a"/>
<rect x="475" y="203" width="3" height="4" fill="#26a69a"/>
<rect x="479" y="187" width="1" height="16" fill="#26a69a"/>
<rect x="478" y="193" width="3" height="10" fill="#26a69a"/>
<rect x="481" y="190" width="1" height="7" fill="#ef5350"/>
<rect x="481" y="193" width="2" height="3" fill="#ef5350"/>
<rect x="484" y="192" width="1" height="6" fill="#ef5350"/>
<rect x="483" y="196" width="3" height="2" fill="#ef5350"/>
<rect x="487" y="191" width="1" height="9" fill="#26a69a"/>
<rect x="486" y="193" width="3" height="5" fill="#26a69a"/>
<rect x="490" y="177" width="1" height="19" fill="#26a69a"/>
<rect x="489" y="187" width="3" height="6" fill="#26a69a"/>
<rect x="493" y="181" width="1" height="14" fill="#ef5350"/>
<rect x="492" y="187" width="3" height="8" fill="#ef5350"/>
<rect x="496" y="193" width="1" height="7" fill="#ef5350"/>
<rect x="495" y="195" width="3" height="5" fill="#ef5350"/>
<rect x="499" y="200" width="1" height="11" fill="#ef5350"/>
<rect x="498" y="200" width="3" height="7" fill="#ef5350"/>
<rect x="502" y="203" width="1" height="17" fill="#ef5350"/>
<rect x="501" y="207" width="3" height="11" fill="#ef5350"/>
<rect x="505" y="214" width="1" height="17" fill="#ef5350"/>
<rect x="504" y="218" width="3" height="9" fill="#ef5350"/>
<rect x="507" y="217" width="1" height="15" fill="#26a69a"/>
<rect x="507" y="217" width="2" height="10" fill="#26a69a"/>
<rect x="510" y="215" width="1" height="12" fill="#ef5350"/>
<rect x="509" y="217" width="3" height="7" fill="#ef5350"/>
<rect x="513" y="219" width="1" height="17" fill="#ef5350"/>
<rect x="512" y="224" width="3" height="1" fill="#ef5350"/>
<rect x="516" y="223" width="1" height="18" fill="#ef5350"/>
<rect x="515" y="225" width="3" height="10" fill="#ef5350"/>
<rect x="519" y="235" width="1" height="19" fill="#ef5350"/>
<rect x="518" y="235" width="3" height="12" fill="#ef5350"/>
<rect x="522" y="240" width="1" height="9" fill="#ef5350"/>
<rect x="521" y="247" width="3" height="2" fill="#ef5350"/>
<rect x="525" y="238" width="1" height="11" fill="#26a69a"/>
<rect x="524" y="241" width="3" height="8" fill="#26a69a"/>
<rect x="528" y="240" width="1" height="9" fill="#ef5350"/>
<rect x="527" y="241" width="3" height="5" fill="#ef5350"/>
</g>
<g fill="#e0e3eb" shape-rendering="crispEdges">
<rect x="880" y="0" width="1" height="535"/>
<rect x="2" y="507" width="946" height="1"/>
<rect x="1" y="534" width="948" height="2" fill="#e6e9f0"/>
</g>
<g font-family="'Liberation Sans', sans-serif" font-size="12.02px" fill="#131722">
<text x="890.5" y="3.3" textLength="35" lengthAdjust="spacingAndGlyphs">150.00</text>
<text x="890.5" y="41.7" textLength="35" lengthAdjust="spacingAndGlyphs">140.00</text>
<text x="890.5" y="80.1" textLength="35" lengthAdjust="spacingAndGlyphs">130.00</text>
<text x="890.5" y="118.5" textLength="35" lengthAdjust="spacingAndGlyphs">120.00</text>
<text x="890.5" y="156.9" textLength="35" lengthAdjust="spacingAndGlyphs">110.00</text>
<text x="890.5" y="195.3" textLength="35" lengthAdjust="spacingAndGlyphs">100.00</text>
<text x="890.5" y="233.7" textLength="29" lengthAdjust="spacingAndGlyphs">90.00</text>
<text x="890.5" y="348.9" textLength="29" lengthAdjust="spacingAndGlyphs">60.00</text>
<text x="890.5" y="387.3" textLength="29" lengthAdjust="spacingAndGlyphs">50.00</text>
<text x="890.5" y="425.7" textLength="29" lengthAdjust="spacingAndGlyphs">40.00</text>
<text x="890.5" y="464.1" textLength="29" lengthAdjust="spacingAndGlyphs">30.00</text>
<text x="890.5" y="502.5" textLength="29" lengthAdjust="spacingAndGlyphs">20.00</text>
<text x="28.0" y="525" textLength="19" lengthAdjust="spacingAndGlyphs">Dec</text>
<text x="121.25" y="525" textLength="6.5" lengthAdjust="spacingAndGlyphs">6</text>
<text x="239.25" y="525" textLength="12.5" lengthAdjust="spacingAndGlyphs">13</text>
<text x="360.0" y="525" textLength="13" lengthAdjust="spacingAndGlyphs">20</text>
<text x="481.0" y="525" textLength="13" lengthAdjust="spacingAndGlyphs">27</text>
<text x="723.25" y="525" textLength="12.5" lengthAdjust="spacingAndGlyphs">10</text>
<text x="844.25" y="525" textLength="12.5" lengthAdjust="spacingAndGlyphs">17</text>
<text x="560.8" y="525" textLength="27" lengthAdjust="spacingAndGlyphs" stroke="#131722" stroke-width="0.3">2022</text>
<text x="10.3" y="17.8" textLength="24.7" lengthAdjust="spacingAndGlyphs">Luna</text>
<text x="39.6" y="17.8" textLength="4" lengthAdjust="spacingAndGlyphs">/</text>
<text x="49.7" y="17.8" textLength="49" lengthAdjust="spacingAndGlyphs">TetherUS,</text>
<text x="105.3" y="17.8" textLength="16.1" lengthAdjust="spacingAndGlyphs">4h,</text>
<text x="126.8" y="17.8" textLength="44.8" lengthAdjust="spacingAndGlyphs">BINANCE</text>
<text x="180" y="17.8" textLength="7.5" lengthAdjust="spacingAndGlyphs">O</text>
<text x="188" y="17.8" textLength="29" lengthAdjust="spacingAndGlyphs" fill="#ef5350">87.00</text>
<text x="224.9" y="17.8" textLength="6.5" lengthAdjust="spacingAndGlyphs">H</text>
<text x="232.3" y="17.8" textLength="29" lengthAdjust="spacingAndGlyphs" fill="#ef5350">87.15</text>
<text x="269.4" y="17.8" textLength="5" lengthAdjust="spacingAndGlyphs">L</text>
<text x="275.3" y="17.8" textLength="28.5" lengthAdjust="spacingAndGlyphs" fill="#ef5350">84.81</text>
<text x="312.1" y="17.8" textLength="6.3" lengthAdjust="spacingAndGlyphs">C</text>
<text x="319.2" y="17.8" textLength="28" lengthAdjust="spacingAndGlyphs" fill="#ef5350">85.71</text>
<text x="356.4" y="17.8" textLength="28.4" lengthAdjust="spacingAndGlyphs" fill="#ef5350">−1.28</text>
<text x="389.9" y="17.8" textLength="44.2" lengthAdjust="spacingAndGlyphs" fill="#ef5350">(−1.47%)</text>
<text x="10.3" y="34.5" textLength="15.4" lengthAdjust="spacingAndGlyphs">Vol</text>
<text x="33.7" y="34.5" textLength="49.1" lengthAdjust="spacingAndGlyphs" fill="#ef5350">319.321K</text>
<text x="10.3" y="51.8" textLength="14.8" lengthAdjust="spacingAndGlyphs">MA</text>
<text x="30.9" y="51.8" textLength="24.1" lengthAdjust="spacingAndGlyphs">(200,</text>
<text x="60.3" y="51.8" textLength="28.8" lengthAdjust="spacingAndGlyphs">close,</text>
<text x="95.8" y="51.8" textLength="10.4" lengthAdjust="spacingAndGlyphs">0)</text>
<text x="114" y="51.8" textLength="29.5" lengthAdjust="spacingAndGlyphs" fill="#2196f3">69.75</text>
</g>
<rect x="896.5" y="6" width="35" height="17.5" rx="4" fill="#fff" stroke="#d1d4dc" stroke-width="1"/>
<text x="900.4" y="18.4" font-family="'Liberation Sans', sans-serif" font-size="11.52px" fill="#131722" textLength="27.6" lengthAdjust="spacingAndGlyphs">USDT</text>
<path d="M880,212h44a2,2 0 0 1 2,2v12.5a2,2 0 0 1 -2,2h-44z" fill="#2196f3"/>
<path d="M880,269h44a2,2 0 0 1 2,2v13a2,2 0 0 1 -2,2h-44z" fill="#2196f3"/>
<path d="M880,297h44a2,2 0 0 1 2,2v13a2,2 0 0 1 -2,2h-44z" fill="#2196f3"/>
<path d="M880,238h61a2,2 0 0 1 2,2v26.7a2,2 0 0 1 -2,2h-61z" fill="#ef5350"/>
<g font-family="'Liberation Sans', sans-serif" font-size="12.02px" font-weight="bold" fill="#fff">
<text x="890.2" y="224.7" textLength="29.3" lengthAdjust="spacingAndGlyphs">92.39</text>
<text x="890" y="250.6" textLength="28.4" lengthAdjust="spacingAndGlyphs">85.71</text>
<text x="890" y="264.4" textLength="46.5" lengthAdjust="spacingAndGlyphs" fill-opacity="0.8">01:17:09</text>
<text x="890.2" y="281.8" textLength="29.3" lengthAdjust="spacingAndGlyphs">84.62</text>
<text x="890.2" y="310" textLength="29.3" lengthAdjust="spacingAndGlyphs">70.38</text>
</g>
</svg>
</body></html>
